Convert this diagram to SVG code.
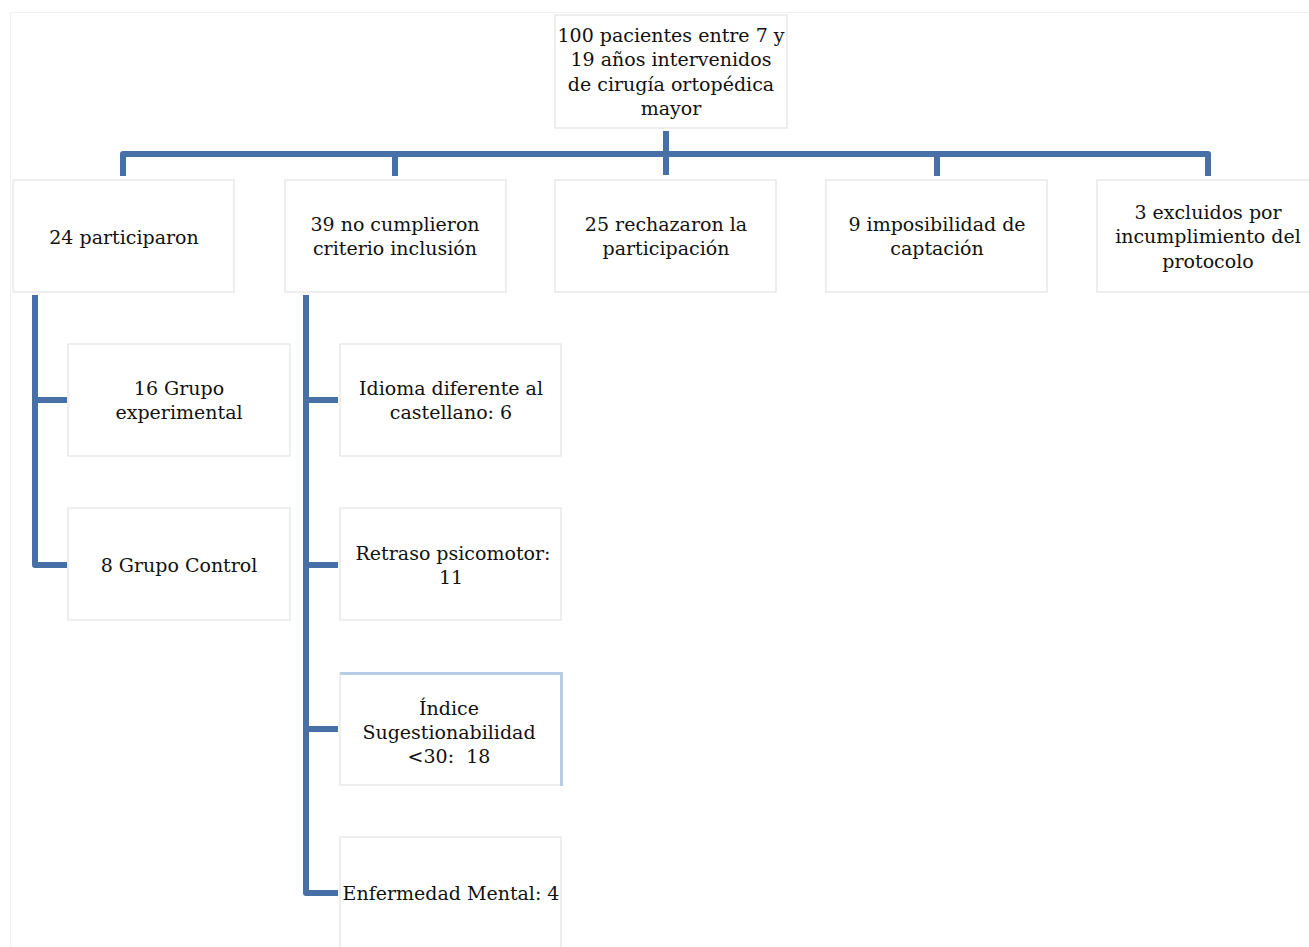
<svg xmlns="http://www.w3.org/2000/svg" width="1309" height="947" viewBox="0 0 1309 947">
<style>
.box{fill:#fff;stroke:#e3e3e3;stroke-width:1.2}
.t{font-family:"DejaVu Serif","Liberation Serif",serif;font-size:19px;fill:#111;text-anchor:middle;white-space:pre}
.c{fill:none;stroke:#4670a6;stroke-width:6;stroke-linejoin:round;stroke-linecap:butt}
</style>
<rect x="0" y="0" width="1309" height="947" fill="#fff"/>
<path d="M10.5 947 V12.5 H1309" fill="none" stroke="#f0f0f0" stroke-width="1"/>
<g id="connectors">
<path class="c" d="M666 131 V175"/>
<path class="c" d="M123 176 V154 H1208 V176"/>
<path class="c" d="M395 154 V176"/>
<path class="c" d="M937 154 V176"/>
<path class="c" d="M35 295 V565 H67"/>
<path class="c" d="M35 400 H67"/>
<path class="c" d="M306 295 V893 H338"/>
<path class="c" d="M306 400 H338"/>
<path class="c" d="M306 565 H338"/>
<path class="c" d="M306 729 H338"/>
</g>
<g id="n0"><rect class="box" x="555" y="15" width="232" height="113"/>
<text class="t"><tspan x="671" y="42">100 pacientes entre 7 y</tspan><tspan x="671" y="66">19 años intervenidos</tspan><tspan x="671" y="91">de cirugía ortopédica</tspan><tspan x="671" y="115">mayor</tspan></text></g>
<g id="n1"><rect class="box" x="13" y="180" width="221" height="112"/>
<text class="t" x="124" y="244">24 participaron</text></g>
<g id="n2"><rect class="box" x="285" y="180" width="221" height="112"/>
<text class="t"><tspan x="395" y="231">39 no cumplieron</tspan><tspan x="395" y="255">criterio inclusión</tspan></text></g>
<g id="n3"><rect class="box" x="555" y="180" width="221" height="112"/>
<text class="t"><tspan x="666" y="231">25 rechazaron la</tspan><tspan x="666" y="255">participación</tspan></text></g>
<g id="n4"><rect class="box" x="826" y="180" width="221" height="112"/>
<text class="t"><tspan x="937" y="231">9 imposibilidad de</tspan><tspan x="937" y="255">captación</tspan></text></g>
<g id="n5"><rect class="box" x="1097" y="180" width="221" height="112"/>
<text class="t"><tspan x="1208" y="219">3 excluidos por</tspan><tspan x="1208" y="243">incumplimiento del</tspan><tspan x="1208" y="268">protocolo</tspan></text></g>
<g id="n6"><rect class="box" x="68" y="344" width="222" height="112"/>
<text class="t"><tspan x="179" y="395">16 Grupo</tspan><tspan x="179" y="419">experimental</tspan></text></g>
<g id="n7"><rect class="box" x="68" y="508" width="222" height="112"/>
<text class="t" x="179" y="572">8 Grupo Control</text></g>
<g id="n8"><rect class="box" x="340" y="344" width="221" height="112"/>
<text class="t"><tspan x="451" y="395">Idioma diferente al</tspan><tspan x="451" y="419">castellano: 6</tspan></text></g>
<g id="n9"><rect class="box" x="340" y="508" width="221" height="112"/>
<text class="t"><tspan x="453" y="560">Retraso psicomotor:</tspan><tspan x="451" y="584">11</tspan></text></g>
<g id="n10"><rect class="box" x="340" y="673" width="221" height="112"/>
<path d="M340 673.5 H561.5 V786" fill="none" stroke="#b9cde6" stroke-width="3"/>
<text class="t"><tspan x="449" y="715">Índice</tspan><tspan x="449" y="739">Sugestionabilidad</tspan><tspan x="449" y="763">&lt;30:  18</tspan></text></g>
<g id="n11"><rect class="box" x="340" y="837" width="221" height="115"/>
<text class="t" x="451" y="900">Enfermedad Mental: 4</text></g>
</svg>
